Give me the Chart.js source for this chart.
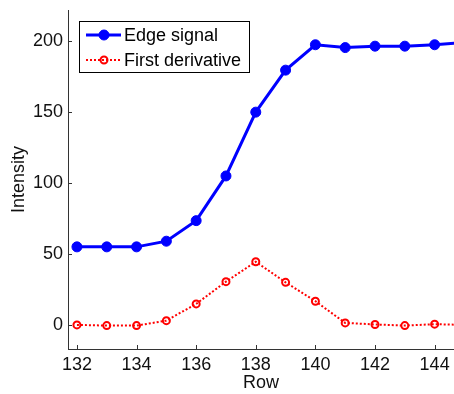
<!DOCTYPE html>
<html>
<head>
<meta charset="utf-8">
<script src="https://cdn.jsdelivr.net/npm/chart.js@4/dist/chart.umd.min.js"></script>
<style>
html,body{margin:0;padding:0;background:#fff;}
#wrap{width:454px;height:394px;position:relative;}
</style>
</head>
<body>
<div id="wrap"><canvas id="c" width="454" height="394"></canvas></div>
<script>
const rows = [132,133,134,135,136,137,138,139,140,141,142,143,144,145];
const edgeSignal = [55,55,55,59,73.5,105,150,179.6,197.5,195.5,196.5,196.5,197.5,199];
const firstDerivative = [0,-0.5,-0.5,3,14.8,30.5,44.5,30,16.7,1.4,0.3,-0.5,0.5,0];
const xTicks = [132,134,136,138,140,142,144];
const yTicks = [0,50,100,150,200];
const seriesNames = ['Edge signal','First derivative'];

const FONT = '"Liberation Sans", Arial, sans-serif';

const innerTicks = {
  id:'innerTicks',
  beforeDatasetsDraw(chart){
    const ctx = chart.ctx, a = chart.chartArea;
    const xs = chart.scales.x, ys = chart.scales.y;
    ctx.save();
    ctx.strokeStyle = '#333';
    ctx.lineWidth = 1;
    ctx.beginPath();
    xTicks.forEach(v=>{const p=Math.round(xs.getPixelForValue(v))+0.5; ctx.moveTo(p,a.bottom); ctx.lineTo(p,a.bottom-4);});
    yTicks.forEach(v=>{const p=Math.round(ys.getPixelForValue(v))+0.5; ctx.moveTo(a.left,p); ctx.lineTo(a.left+4,p);});
    ctx.stroke();
    ctx.restore();
  }
};

const boxLegend = {
  id:'boxLegend',
  afterDraw(chart){
    const ctx = chart.ctx;
    const x0=79.5, y0=21.5, w=170, h=51;
    ctx.save();
    ctx.fillStyle='#fff';
    ctx.fillRect(x0,y0,w,h);
    ctx.strokeStyle='#000'; ctx.lineWidth=1;
    ctx.strokeRect(x0,y0,w,h);
    const rowsY=[35,60];
    chart.data.datasets.forEach((ds,i)=>{
      const y=rowsY[i];
      ctx.strokeStyle=ds.borderColor;
      ctx.lineWidth=ds.borderWidth;
      ctx.setLineDash(ds.borderDash||[]);
      ctx.beginPath(); ctx.moveTo(86,y); ctx.lineTo(121,y); ctx.stroke();
      ctx.setLineDash([]);
      ctx.beginPath(); ctx.arc(104,y,ds.pointRadius,0,Math.PI*2);
      if(ds.pointBackgroundColor && ds.pointBackgroundColor!=='rgba(0,0,0,0)'){ctx.fillStyle=ds.pointBackgroundColor; ctx.fill();}
      ctx.lineWidth=ds.pointBorderWidth; ctx.strokeStyle=ds.pointBorderColor; ctx.stroke();
      ctx.fillStyle='#000';
      ctx.font='18px '+FONT;
      ctx.textBaseline='middle';
      ctx.fillText(ds.label,124,y+1);
    });
    ctx.restore();
  }
};

new Chart(document.getElementById('c'),{
  type:'line',
  data:{
    datasets:[
      {label:seriesNames[0], data:rows.map((r,i)=>({x:r,y:edgeSignal[i]})),
       borderColor:'#0000ff', backgroundColor:'#0000ff', borderWidth:3,
       pointRadius:5, pointBackgroundColor:'#0000ff', pointBorderColor:'#0000ff', pointBorderWidth:1, tension:0},
      {label:seriesNames[1], data:rows.map((r,i)=>({x:r,y:firstDerivative[i]})),
       borderColor:'#ff0000', backgroundColor:'rgba(0,0,0,0)', borderWidth:2, borderDash:[2,2],
       pointRadius:3.5, pointBackgroundColor:'rgba(0,0,0,0)', pointBorderColor:'#ff0000', pointBorderWidth:2, tension:0}
    ]
  },
  options:{
    responsive:false, animation:false,
    layout:{autoPadding:false, padding:{top:10,right:0,left:0,bottom:0}},
    plugins:{legend:{display:false}, tooltip:{enabled:false}},
    scales:{
      x:{type:'linear', min:131.7, max:144.65,
         afterBuildTicks(s){s.ticks=xTicks.map(v=>({value:v}));},
         afterFit(s){s.height=45; s.paddingLeft=0; s.paddingRight=0;},
         grid:{display:false, drawTicks:false},
         border:{display:true,color:'#333',width:1},
         ticks:{color:'#111',font:{family:FONT,size:18},padding:5,maxRotation:0},
         title:{display:true,text:'Row',color:'#111',font:{family:FONT,size:18},padding:{top:0,bottom:0}}},
      y:{type:'linear', min:-17, max:222,
         afterBuildTicks(s){s.ticks=yTicks.map(v=>({value:v}));},
         afterFit(s){s.width=68; s.paddingTop=0; s.paddingBottom=0;},
         grid:{display:false, drawTicks:false},
         border:{display:true,color:'#333',width:1},
         ticks:{color:'#111',font:{family:FONT,size:18},padding:5},
         title:{display:true,text:'Intensity',color:'#111',font:{family:FONT,size:18},padding:{top:8,bottom:0}}}
    }
  },
  plugins:[innerTicks, boxLegend]
});
</script>
</body>
</html>
